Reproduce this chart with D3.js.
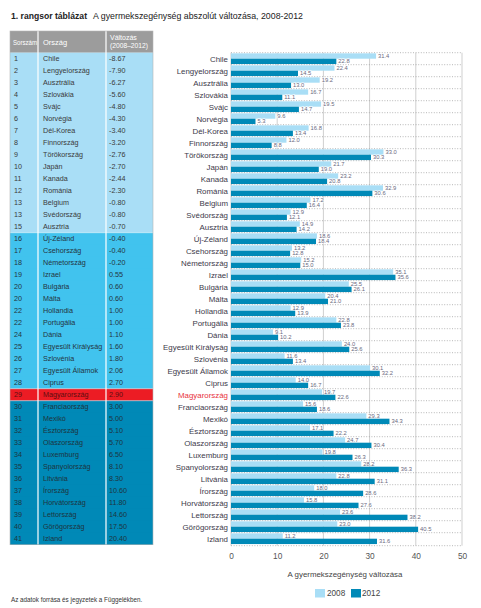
<!DOCTYPE html>
<html><head><meta charset="utf-8">
<script src="https://cdn.jsdelivr.net/npm/d3@7"></script>
<style>body{margin:0;background:#fff}svg{display:block;font-family:"Liberation Sans",Arial,sans-serif}</style>
</head><body><svg id="c" width="481" height="608"></svg>
<script>
const countries = ["Chile","Lengyelország","Ausztrália","Szlovákia","Svájc","Norvégia","Dél-Korea","Finnország","Törökország","Japán","Kanada","Románia","Belgium","Svédország","Ausztria","Új-Zéland","Csehország","Németország","Izrael","Bulgária","Málta","Hollandia","Portugália","Dánia","Egyesült Királyság","Szlovénia","Egyesült Államok","Ciprus","Magyarország","Franciaország","Mexikó","Észtország","Olaszország","Luxemburg","Spanyolország","Litvánia","Írország","Horvátország","Lettország","Görögország","Izland"];
const ranks = [1,2,3,4,5,6,7,8,9,10,11,12,13,13,15,16,17,18,19,20,20,22,22,24,25,26,27,28,29,30,31,32,33,34,35,36,37,38,39,40,41];
const changes = ["-8.67","-7.90","-6.27","-5.60","-4.80","-4.30","-3.40","-3.20","-2.76","-2.70","-2.44","-2.30","-0.80","-0.80","-0.70","-0.40","-0.40","-0.20","0.55","0.60","0.60","1.00","1.00","1.10","1.60","1.80","2.06","2.70","2.90","3.00","5.00","5.10","5.70","6.50","8.10","8.30","10.60","11.80","14.60","17.50","20.40"];
const v2008 = [31.4,22.4,19.2,16.7,19.5,9.6,16.8,12.0,33.0,21.7,23.2,32.9,17.2,12.9,14.9,18.6,13.2,15.2,35.1,25.5,20.4,12.9,22.8,9.1,24.0,11.6,30.1,14.0,19.7,15.6,29.3,17.1,24.7,19.8,28.2,22.8,18.0,15.8,23.6,23.0,11.2];
const v2012 = [22.8,14.5,13.0,11.1,14.7,5.3,13.4,8.8,30.3,19.0,20.8,30.6,16.4,12.1,14.2,18.4,12.8,15.0,35.6,26.1,21.0,13.9,23.8,10.2,25.6,13.4,32.2,16.7,22.6,18.6,34.3,22.2,30.4,26.3,36.3,31.1,28.6,27.6,38.2,40.5,31.6];
const years = ["2008","2012"];
const xTicks = [0,10,20,30,40,50];
// table tiers: number of rows in each colour group
const tierSizes = [15,13,1,12];
const highlight = "Magyarország";

const tierFill = ["#a9def6","#41c3ee","#ec1c24","#0089b7"];
const tierText = ["#3a3a3a","#24343e","#5c0d10","#1e3440"];
const barColor = {"2008":"#a9def6","2012":"#0089b7"};

const svg = d3.select("#c");
const y = d3.scaleBand().domain(countries).range([52.7, 544.7]);
const yi = d3.scaleBand().domain(years).range([0, y.bandwidth()]).paddingOuter(0.12);
const x = d3.scaleLinear().domain([0,50]).range([231,462]);

// title
const t = svg.append("text").attr("x",11).attr("y",19).attr("fill","#222").attr("font-size",9.6);
t.append("tspan").attr("font-weight","bold").attr("textLength",76).attr("lengthAdjust","spacingAndGlyphs").text("1. rangsor táblázat");
t.append("tspan").attr("x",93).attr("textLength",210).attr("lengthAdjust","spacingAndGlyphs").text("A gyermekszegénység abszolút változása, 2008-2012");

// table
const tierOf = [];
tierSizes.forEach((n,k)=>{for(let i=0;i<n;i++) tierOf.push(k);});
const tx0 = 10, tx1 = 153;
svg.append("rect").attr("x",tx0).attr("y",31).attr("width",tx1-tx0).attr("height",y.range()[0]-31).attr("fill","#9c9c9c");
svg.append("g").selectAll("rect").data(countries).join("rect")
  .attr("x",tx0).attr("y",d=>y(d)).attr("width",tx1-tx0).attr("height",y.bandwidth()+0.3)
  .attr("fill",(d,i)=>tierFill[tierOf[i]]);
// group separators
let acc=0;
tierSizes.slice(0,-1).forEach(n=>{acc+=n;
  svg.append("line").attr("x1",tx0).attr("x2",tx1).attr("y1",y(countries[acc])).attr("y2",y(countries[acc])).attr("stroke","#e8f6fc").attr("stroke-width",0.6);
});
[38,106].forEach(cx=>svg.append("line").attr("x1",cx).attr("x2",cx).attr("y1",31).attr("y2",y.range()[1]).attr("stroke","#fff").attr("stroke-width",1.2));
svg.append("rect").attr("x",tx0).attr("y",31).attr("width",tx1-tx0).attr("height",y.range()[1]-31).attr("fill","none").attr("stroke","#b5b5b5").attr("stroke-width",0.6);
// header
svg.append("text").attr("x",13).attr("y",44.5).attr("fill","#fff").attr("font-size",7.2).attr("textLength",24).attr("lengthAdjust","spacingAndGlyphs").text("Sorszám");
svg.append("text").attr("x",43).attr("y",44.5).attr("fill","#fff").attr("font-size",7.5).text("Ország");
svg.append("text").attr("x",110).attr("y",40).attr("fill","#fff").attr("font-size",7).text("Változás");
svg.append("text").attr("x",110).attr("y",48).attr("fill","#fff").attr("font-size",7).attr("textLength",38).attr("lengthAdjust","spacingAndGlyphs").text("(2008–2012)");
const rows = svg.append("g").attr("font-size",7.2);
countries.forEach((c,i)=>{
  const cy = y(c)+y.bandwidth()/2+2.6;
  const col = tierText[tierOf[i]];
  rows.append("text").attr("x",14).attr("y",cy).attr("fill",col).text(ranks[i]);
  rows.append("text").attr("x",43).attr("y",cy).attr("fill",col).text(c);
  rows.append("text").attr("x",109).attr("y",cy).attr("fill",col).text(changes[i]);
});

// chart grid
svg.append("g").selectAll("line").data(xTicks).join("line")
  .attr("x1",d=>x(d)).attr("x2",d=>x(d)).attr("y1",y.range()[0]).attr("y2",y.range()[1]+1)
  .attr("stroke","#cfcfcf").attr("stroke-width",1);
svg.append("g").selectAll("line").data(countries.concat(["__end"])).join("line")
  .attr("x1",x(0)).attr("x2",x(50))
  .attr("y1",(d,i)=>i<countries.length?y(d):y.range()[1]+1).attr("y2",(d,i)=>i<countries.length?y(d):y.range()[1]+1)
  .attr("stroke","#9a9a9a").attr("stroke-width",0.7).attr("stroke-dasharray","1,1.6");

// bars
const series = {"2008":v2008,"2012":v2012};
years.forEach(yr=>{
  const g = svg.append("g");
  g.selectAll("rect").data(countries).join("rect")
    .attr("x",x(0)).attr("y",d=>y(d)+yi(yr)).attr("height",yi.bandwidth())
    .attr("width",(d,i)=>x(series[yr][i])-x(0)).attr("fill",barColor[yr]);
  g.selectAll("text").data(countries).join("text")
    .attr("x",(d,i)=>x(series[yr][i])+2).attr("y",d=>y(d)+yi(yr)+yi.bandwidth()/2+2)
    .attr("font-size",5.8).attr("fill","#6a6a80")
    .attr("stroke","#fff").attr("stroke-width",1.2).attr("paint-order","stroke")
    .text((d,i)=>series[yr][i].toFixed(1));
});

// country labels
svg.append("g").selectAll("text").data(countries).join("text")
  .attr("x",228).attr("y",d=>y(d)+y.bandwidth()/2+2.8).attr("text-anchor","end")
  .attr("font-size",7.9).attr("fill",d=>d===highlight?"#e8323c":"#3d3a4a").text(d=>d);

// x axis
const ax = svg.append("g").attr("transform",`translate(0,${y.range()[1]+1})`)
  .call(d3.axisBottom(x).tickValues(xTicks).tickSize(0).tickPadding(7));
ax.select(".domain").remove();
ax.selectAll("text").attr("font-size",8.3).attr("fill","#555").attr("font-family","Liberation Sans, Arial, sans-serif");
svg.append("text").attr("x",345).attr("y",577).attr("text-anchor","middle").attr("font-size",7.9).attr("fill","#444").text("A gyermekszegénység változása");

// legend
const lg = svg.append("g");
[[315,327],[351,362]].forEach((p,i)=>{
  lg.append("rect").attr("x",p[0]).attr("y",589).attr("width",10).attr("height",8.5).attr("fill",barColor[years[i]]);
  lg.append("text").attr("x",p[1]).attr("y",596).attr("font-size",8.2).attr("fill","#444").text(years[i]);
});

// footnote
svg.append("text").attr("x",11).attr("y",602).attr("font-size",6.3).attr("fill","#333").text("Az adatok forrása és jegyzetek a Függelékben.");
</script></body></html>
